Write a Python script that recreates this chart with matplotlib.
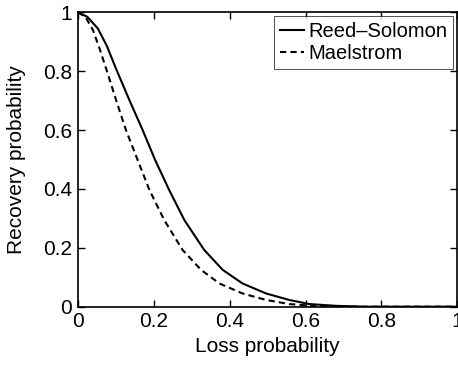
import matplotlib
matplotlib.use("Agg")
import matplotlib.pyplot as plt

plt.rcParams['font.family'] = ['Liberation Sans', 'DejaVu Sans']

# values
rs_loss = [0.0, 0.025, 0.053, 0.077, 0.101, 0.136, 0.171, 0.204, 0.241, 0.281,
           0.333, 0.382, 0.434, 0.496, 0.557, 0.61, 0.68, 0.76, 1.0]
rs_rec = [1.0, 0.985, 0.945, 0.885, 0.808, 0.702, 0.600, 0.498, 0.396, 0.294,
          0.193, 0.125, 0.079, 0.045, 0.023, 0.009, 0.003, 0.0, 0.0]

ml_loss = [0.0, 0.02, 0.04, 0.058, 0.075, 0.101, 0.127, 0.158, 0.189, 0.228,
           0.276, 0.325, 0.373, 0.434, 0.496, 0.557, 0.63, 0.72, 1.0]
ml_rec = [1.0, 0.985, 0.94, 0.875, 0.808, 0.702, 0.600, 0.498, 0.396, 0.294,
          0.193, 0.125, 0.079, 0.045, 0.023, 0.009, 0.002, 0.0, 0.0]

fig = plt.figure(figsize=(4.58, 3.65), dpi=100)
ax = fig.add_axes([0.1697, 0.1597, 0.829, 0.8066])

ax.plot(rs_loss, rs_rec, 'k-', lw=1.5, label='Reed\u2013Solomon')
ax.plot(ml_loss, ml_rec, 'k--', lw=1.5, label='Maelstrom', dashes=(3, 2))

ax.set_xlim(0, 1)
ax.set_ylim(0, 1)
ax.set_xticks([0, 0.2, 0.4, 0.6, 0.8, 1])
ax.set_yticks([0, 0.2, 0.4, 0.6, 0.8, 1])
ax.set_xticklabels(['0', '0.2', '0.4', '0.6', '0.8', '1'])
ax.set_yticklabels(['0', '0.2', '0.4', '0.6', '0.8', '1'])
ax.tick_params(direction='in', top=True, right=True, length=5, width=1, labelsize=15, pad=4)
for sp in ax.spines.values():
    sp.set_linewidth(1.2)

ax.set_xlabel('Loss probability', fontsize=15, labelpad=4)
ax.set_ylabel('Recovery probability', fontsize=15, labelpad=12)

leg = ax.legend(loc='upper right', fontsize=14.5, frameon=True, fancybox=False,
                borderaxespad=0.2, handlelength=1.2, handletextpad=0.2,
                borderpad=0.3, labelspacing=0.15)
leg.get_frame().set_edgecolor('black')
leg.get_frame().set_linewidth(0.6)

fig.savefig('out.png', dpi=100)
